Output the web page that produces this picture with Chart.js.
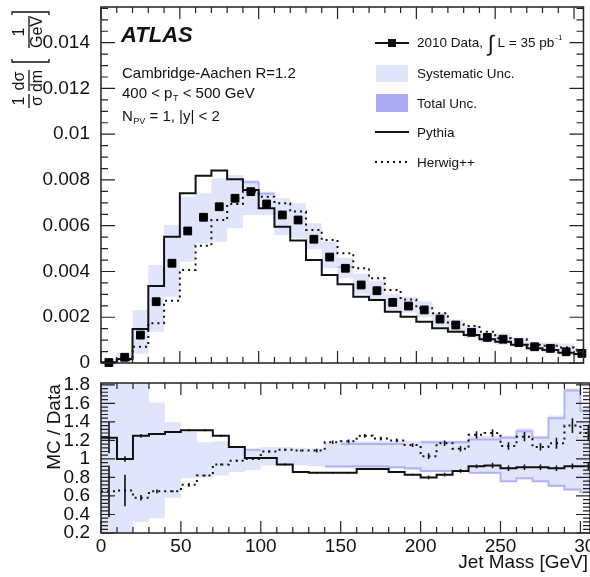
<!DOCTYPE html>
<html>
<head>
<meta charset="utf-8">
<script src="https://cdn.jsdelivr.net/npm/chart.js@4.4.0/dist/chart.umd.min.js"></script>
<style>
  html, body { margin: 0; padding: 0; background: #fff; }
  #wrap { position: relative; width: 590px; height: 577px; overflow: hidden; }
  #topChart { position: absolute; left: 0; top: 0; }
  #ratioChart { position: absolute; left: 0; top: 375px; }
</style>
</head>
<body>
<div id="wrap">
  <canvas id="topChart" width="590" height="380"></canvas>
  <canvas id="ratioChart" width="590" height="202"></canvas>
</div>
<script>
// jet mass bins [GeV]
const binEdges = [0, 10, 20, 30, 40, 50, 60, 70, 80, 90, 100, 110, 120, 130, 140, 150, 160,
  170, 180, 190, 200, 210, 220, 230, 240, 250, 260, 270, 280, 290, 300, 310];
const binCenters = [5, 15, 25, 35, 45, 55, 65, 75, 85, 95, 105, 115, 125, 135, 145, 155,
  165, 175, 185, 195, 205, 215, 225, 235, 245, 255, 265, 275, 285, 295, 305];

// top panel: 1/sigma dsigma/dm
const dataVals = [0.00002, 0.00025, 0.00122, 0.00268, 0.00436, 0.00577, 0.00637, 0.00683, 0.0072, 0.00749,
  0.00695, 0.00647, 0.00625, 0.00541, 0.00463, 0.00414, 0.00341, 0.00316, 0.00265, 0.00249,
  0.00232, 0.00192, 0.00166, 0.00134, 0.00112, 0.00104, 0.00089, 0.00071, 0.00064, 0.00049, 0.00042];
const pythiaVals = [0.00003, 0.00018, 0.00149, 0.00337, 0.00552, 0.00742, 0.00818, 0.00841, 0.00803, 0.00756,
  0.00676, 0.00596, 0.00535, 0.0045, 0.00385, 0.00344, 0.0029, 0.00275, 0.00224, 0.00202,
  0.0018, 0.00152, 0.00137, 0.00122, 0.00104, 0.00093, 0.0008, 0.00065, 0.00057, 0.00045, 0.00039];
const herwigVals = [0.00001, 0.00013, 0.00071, 0.00174, 0.00272, 0.00407, 0.00513, 0.00625, 0.00695, 0.00749,
  0.00727, 0.00698, 0.00662, 0.00581, 0.00538, 0.0048, 0.00414, 0.0037, 0.00319, 0.00278,
  0.00239, 0.00217, 0.0017, 0.00162, 0.00137, 0.00108, 0.00104, 0.0008, 0.00075, 0.00068, 0.00058];
const sysHi = [0.00008, 0.00045, 0.00232, 0.00428, 0.00603, 0.00727, 0.00742, 0.00808, 0.00822, 0.0080,
  0.00749, 0.0072, 0.00698, 0.00611, 0.0053, 0.0046, 0.0039, 0.0036, 0.0030, 0.0029,
  0.0027, 0.0022, 0.0019, 0.0016, 0.0013, 0.0013, 0.0011, 0.0009, 0.0009, 0.00085, 0.0006];
const sysLo = [0, 0.00005, 0.0004, 0.00137, 0.0029, 0.00443, 0.00523, 0.0053, 0.00589, 0.00647,
  0.00647, 0.0056, 0.00545, 0.00497, 0.00414, 0.0037, 0.0030, 0.0028, 0.0023, 0.0022,
  0.0020, 0.0016, 0.0014, 0.0011, 0.0009, 0.0008, 0.0007, 0.00055, 0.00045, 0.00033, 0.00026];
const totHi = [null, null, null, null, null, null, null, null, null, 0.0079,
  0.0074, null, null, null, null, null, null, null, null, null,
  null, null, null, null, null, null, null, null, null, null, null];
const totLo = [null, null, null, null, null, null, null, null, null, null,
  null, null, null, null, null, 0.0042, null, null, null, null,
  null, null, null, null, null, null, null, null, null, null, null];

// ratio panel: MC / Data
const pyRatio = [1.23, 1.00, 1.25, 1.27, 1.29, 1.31, 1.31, 1.25, 1.13, 1.01,
  1.01, 0.94, 0.86, 0.85, 0.85, 0.85, 0.89, 0.89, 0.86, 0.83,
  0.80, 0.83, 0.87, 0.92, 0.93, 0.90, 0.91, 0.91, 0.90, 0.92, 0.92];
const hwRatio = [0.65, 0.66, 0.58, 0.65, 0.65, 0.72, 0.82, 0.94, 0.98, 1.00,
  1.08, 1.10, 1.09, 1.09, 1.18, 1.19, 1.25, 1.22, 1.20, 1.15,
  1.03, 1.17, 1.11, 1.26, 1.28, 1.14, 1.24, 1.13, 1.17, 1.36, 1.28];
const pyErr = [0.17, 0.03, 0.02, 0.01, 0.01, 0.01, 0.01, 0.01, 0.01, 0.01,
  0.01, 0.01, 0.01, 0.01, 0.01, 0.01, 0.01, 0.01, 0.01, 0.01,
  0.02, 0.02, 0.02, 0.02, 0.03, 0.03, 0.03, 0.03, 0.03, 0.03, 0.04];
const hwErr = [0.28, 0.17, 0.03, 0.02, 0.01, 0.02, 0.01, 0.01, 0.01, 0.01,
  0.01, 0.01, 0.01, 0.02, 0.02, 0.02, 0.02, 0.02, 0.02, 0.02,
  0.03, 0.03, 0.03, 0.04, 0.04, 0.04, 0.05, 0.04, 0.06, 0.08, 0.09];
const rSysHi = [1.9, 1.9, 1.9, 1.61, 1.40, 1.29, 1.18, 1.19, 1.12, 1.10,
  1.13, 1.13, 1.12, 1.11, 1.18, 1.19, 1.19, 1.19, 1.19, 1.19,
  1.20, 1.20, 1.20, 1.25, 1.25, 1.25, 1.33, 1.25, 1.47, 1.76, 1.56];
const rSysLo = [0.15, 0.15, 0.32, 0.36, 0.58, 0.79, 0.80, 0.82, 0.86, 0.88,
  0.93, 0.93, 0.93, 0.92, 0.90, 0.90, 0.90, 0.90, 0.90, 0.88,
  0.86, 0.86, 0.86, 0.84, 0.84, 0.75, 0.78, 0.75, 0.70, 0.66, 0.63];
const rTotHi = [null, null, null, null, null, null, null, null, null, 1.10,
  null, null, null, null, null, 1.16, 1.16, 1.16, 1.16, null,
  1.18, 1.18, 1.18, 1.21, 1.21, 1.23, 1.30, 1.23, 1.44, 1.74, 1.52];
const rTotLo = [null, null, null, null, null, null, null, null, null, null,
  null, null, null, null, 0.92, 0.92, 0.92, 0.92, 0.91, 0.90,
  0.87, 0.87, null, 0.85, 0.85, 0.76, 0.79, 0.76, 0.71, 0.67, 0.64];

const yTicksTop = { step: 0.002, minor: 0.0005 };
const yTicksRatio = { step: 0.2, minor: 0.04 };

const FONT = "'Liberation Sans', Arial, sans-serif";
const SYS_COLOR = "#e1e5fb";
const TOT_COLOR = "#aaaaf4";
Chart.defaults.font.family = FONT;
Chart.defaults.color = "#111";

// two points per bin so that null bins leave a gap
function histPoints(vals) {
  const pts = [];
  vals.forEach((v, i) => {
    pts.push({ x: binEdges[i], y: v }, { x: binEdges[i + 1], y: v });
  });
  return pts;
}

function txt(ctx, s, x, y, font) {
  if (font) ctx.font = font;
  ctx.fillText(s, x, y);
  return x + ctx.measureText(s).width;
}

// frame with inward ticks on all four sides (ROOT style)
const atlasFrame = {
  id: "atlasFrame",
  afterDraw(chart, args, o) {
    const { ctx, chartArea: a, scales } = chart;
    const xs = scales.x, ys = scales.y;
    ctx.save();
    ctx.strokeStyle = "#222";
    ctx.lineWidth = 1.5;
    ctx.strokeRect(a.left, a.top, a.right - a.left, a.bottom - a.top);
    ctx.lineWidth = 1.2;
    ctx.beginPath();
    const x0 = Math.ceil(xs.min / o.xMinor - 1e-6);
    for (let k = x0; k * o.xMinor <= xs.max + 1e-9; k++) {
      const v = k * o.xMinor;
      const major = Math.abs(v / o.xMajor - Math.round(v / o.xMajor)) < 1e-6;
      const len = major ? 12 : 6;
      const px = xs.getPixelForValue(v);
      ctx.moveTo(px, a.bottom); ctx.lineTo(px, a.bottom - len);
      ctx.moveTo(px, a.top); ctx.lineTo(px, a.top + len);
    }
    const y0 = Math.ceil(ys.min / o.yMinor - 1e-6);
    for (let k = y0; k * o.yMinor <= ys.max + 1e-9; k++) {
      const v = k * o.yMinor;
      const major = Math.abs(v / o.yMajor - Math.round(v / o.yMajor)) < 1e-6;
      const len = major ? 14 : 7;
      const py = ys.getPixelForValue(v);
      ctx.moveTo(a.left, py); ctx.lineTo(a.left + len, py);
      ctx.moveTo(a.right, py); ctx.lineTo(a.right - len, py);
    }
    ctx.stroke();
    ctx.restore();
  }
};

const topText = {
  id: "topText",
  afterDraw(chart) {
    const ctx = chart.ctx;
    ctx.save();
    ctx.fillStyle = "#111";
    ctx.textBaseline = "alphabetic";
    txt(ctx, "ATLAS", 121, 42, "italic bold 22px " + FONT);
    txt(ctx, "Cambridge-Aachen R=1.2", 122, 78, "15px " + FONT);
    let x = txt(ctx, "400 < p", 122, 98, "15px " + FONT);
    x = txt(ctx, "T", x + 0.5, 101, "9px " + FONT);
    txt(ctx, " < 500 GeV", x, 98, "15px " + FONT);
    x = txt(ctx, "N", 122, 121, "15px " + FONT);
    x = txt(ctx, "PV", x + 0.5, 124, "9px " + FONT);
    txt(ctx, " = 1, |y| < 2", x, 121, "15px " + FONT);

    // legend
    const lf = "13.5px " + FONT;
    ctx.strokeStyle = "#111";
    ctx.lineWidth = 2;
    ctx.beginPath(); ctx.moveTo(375, 43); ctx.lineTo(409, 43); ctx.stroke();
    ctx.fillRect(388, 39, 8, 8);
    x = txt(ctx, "2010 Data, ", 417, 47, lf);
    x = txt(ctx, "\u222B", x + 1, 51, "22px " + FONT);
    x = txt(ctx, " L = 35 pb", x, 47, lf);
    txt(ctx, "-1", x + 1, 40, "8px " + FONT);
    ctx.fillStyle = SYS_COLOR;
    ctx.fillRect(376, 65, 32, 17);
    ctx.fillStyle = TOT_COLOR;
    ctx.fillRect(376, 94, 32, 18);
    ctx.fillStyle = "#111";
    txt(ctx, "Systematic Unc.", 417, 78, lf);
    txt(ctx, "Total Unc.", 417, 108, lf);
    ctx.beginPath(); ctx.moveTo(375, 132); ctx.lineTo(409, 132); ctx.stroke();
    txt(ctx, "Pythia", 417, 137, lf);
    ctx.setLineDash([2, 4]);
    ctx.beginPath(); ctx.moveTo(375, 162); ctx.lineTo(409, 162); ctx.stroke();
    ctx.setLineDash([]);
    txt(ctx, "Herwig++", 417, 167, lf);

    // y title: 1/sigma dsigma/dm [1/GeV], rotated
    ctx.translate(29, 112);
    ctx.rotate(-Math.PI / 2);
    ctx.font = "16px " + FONT;
    ctx.textAlign = "center";
    ctx.textBaseline = "middle";
    ctx.lineWidth = 1.3;
    ctx.fillText("1", 11, -9);
    ctx.fillText("\u03C3", 11, 9);
    ctx.fillText("d\u03C3", 31, -9);
    ctx.fillText("dm", 31, 9);
    ctx.fillText("1", 80, -9);
    ctx.fillText("GeV", 80, 9);
    ctx.beginPath();
    ctx.moveTo(4, 0); ctx.lineTo(18, 0);
    ctx.moveTo(21, 0); ctx.lineTo(42, 0);
    ctx.moveTo(64, 0); ctx.lineTo(96, 0);
    ctx.moveTo(53, -17); ctx.lineTo(50, -17); ctx.lineTo(50, 20); ctx.lineTo(53, 20);
    ctx.moveTo(97, -17); ctx.lineTo(100, -17); ctx.lineTo(100, 20); ctx.lineTo(97, 20);
    ctx.stroke();
    ctx.restore();
  }
};

const ratioText = {
  id: "ratioText",
  afterDatasetsDraw(chart) {
    const { ctx, scales: { x, y } } = chart;
    ctx.save();
    ctx.strokeStyle = "#111";
    ctx.lineWidth = 1.6;
    ctx.beginPath();
    binCenters.forEach((c, i) => {
      const px = x.getPixelForValue(c);
      ctx.moveTo(px, y.getPixelForValue(pyRatio[i] - pyErr[i]));
      ctx.lineTo(px, y.getPixelForValue(pyRatio[i] + pyErr[i]));
      ctx.moveTo(px, y.getPixelForValue(hwRatio[i] - hwErr[i]));
      ctx.lineTo(px, y.getPixelForValue(hwRatio[i] + hwErr[i]));
    });
    ctx.stroke();
    ctx.restore();
  },
  afterDraw(chart) {
    const ctx = chart.ctx;
    ctx.save();
    ctx.fillStyle = "#111";
    ctx.font = "19px " + FONT;
    ctx.textAlign = "right";
    ctx.textBaseline = "alphabetic";
    ctx.fillText("Jet Mass [GeV]", 588, 193);
    ctx.translate(60, 52);
    ctx.rotate(-Math.PI / 2);
    ctx.textAlign = "center";
    ctx.fillText("MC / Data", 0, 0);
    ctx.restore();
  }
};

function lineSet(vals, dashed) {
  return {
    type: "line",
    data: histPoints(vals),
    borderColor: "#111",
    borderWidth: 2,
    borderDash: dashed ? [2, 4] : [],
    pointRadius: 0,
    fill: false,
    spanGaps: false,
  };
}
function edgeSet(vals) {
  return {
    type: "line",
    data: histPoints(vals),
    borderColor: "rgba(160,160,242,0.75)",
    borderWidth: 2,
    pointRadius: 0,
    fill: false,
    spanGaps: false,
  };
}
function bandSet(vals, fill) {
  return {
    type: "line",
    data: histPoints(vals),
    borderWidth: 0,
    pointRadius: 0,
    backgroundColor: SYS_COLOR,
    fill: fill,
  };
}

function xScale(height, showTicks) {
  return {
    type: "linear",
    min: 0,
    max: 306,
    grid: { display: false },
    border: { display: false },
    ticks: { display: showTicks, stepSize: 50, padding: -6, font: { size: 19 }, maxRotation: 0, autoSkip: false },
    afterFit(s) { s.height = height; s.paddingLeft = 0; s.paddingRight = 0; },
  };
}

function yScale(min, max, step, digits) {
  return {
    min: min,
    max: max,
    grid: { display: false },
    border: { display: false },
    ticks: {
      stepSize: step,
      includeBounds: false,
      autoSkip: false,
      padding: 3,
      font: { size: 19 },
      callback: (v) => String(+v.toFixed(digits)),
    },
    afterFit(s) { s.width = 101; s.paddingTop = 0; s.paddingBottom = 0; },
  };
}

new Chart(document.getElementById("topChart"), {
  type: "line",
  data: {
    datasets: [
      {
        type: "scatter",
        data: binCenters.map((c, i) => ({ x: c, y: dataVals[i] })),
        pointStyle: "rect",
        pointRadius: 5.5,
        backgroundColor: "#000",
        borderColor: "#000",
        showLine: false,
        clip: false,
      },
      lineSet(pythiaVals, false),
      lineSet(herwigVals, true),
      edgeSet(totHi),
      edgeSet(totLo),
      bandSet(sysHi, "+1"),
      bandSet(sysLo, false),
    ],
  },
  options: {
    responsive: false,
    animation: false,
    layout: { padding: { top: 7, right: 0, bottom: 0, left: 0 } },
    scales: {
      x: xScale(17, false),
      y: yScale(0, 0.01556, yTicksTop.step, 3),
    },
    plugins: {
      legend: { display: false },
      tooltip: { enabled: false },
      atlasFrame: { xMajor: 50, xMinor: 10, yMajor: yTicksTop.step, yMinor: yTicksTop.minor },
    },
  },
  plugins: [atlasFrame, topText],
});

new Chart(document.getElementById("ratioChart"), {
  type: "line",
  data: {
    datasets: [
      lineSet(pyRatio, false),
      lineSet(hwRatio, true),
      edgeSet(rTotHi),
      edgeSet(rTotLo),
      bandSet(rSysHi, "+1"),
      bandSet(rSysLo, false),
    ],
  },
  options: {
    responsive: false,
    animation: false,
    layout: { padding: { top: 8, right: 0, bottom: 0, left: 0 } },
    scales: {
      x: xScale(44, true),
      y: yScale(0.2, 1.82, yTicksRatio.step, 1),
    },
    plugins: {
      legend: { display: false },
      tooltip: { enabled: false },
      atlasFrame: { xMajor: 50, xMinor: 10, yMajor: yTicksRatio.step, yMinor: yTicksRatio.minor },
    },
  },
  plugins: [atlasFrame, ratioText],
});
</script>
</body>
</html>
